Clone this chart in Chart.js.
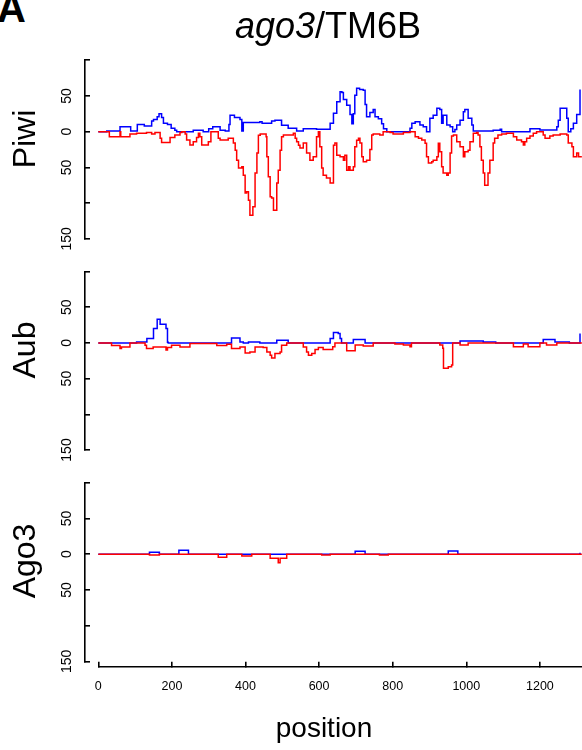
<!DOCTYPE html>
<html>
<head>
<meta charset="utf-8">
<script src="https://cdn.jsdelivr.net/npm/chart.js@4.4.0/dist/chart.umd.min.js"></script>
<style>
  html, body { margin: 0; padding: 0; background: #fff; overflow: hidden; }
  #fig { position: relative; width: 582px; height: 750px; font-family: "Liberation Sans", Arial, sans-serif; color: #000; }
  .panel { position: absolute; left: 0; width: 582px; }
  .lbl { position: absolute; line-height: 1; white-space: nowrap; }
  .ylab { font-size: 32px; transform: translate(-50%, -50%) rotate(-90deg); }
</style>
</head>
<body>
<div id="fig">
  <div class="panel" id="pPiwi"><canvas></canvas></div>
  <div class="panel" id="pAub"><canvas></canvas></div>
  <div class="panel" id="pAgo3"><canvas></canvas></div>
  <div class="panel" id="pAxis"><canvas></canvas></div>
  <div class="lbl" style="left:-3px; top:-12px; font-size:40px; font-weight:bold;">A</div>
  <div class="lbl" style="left:328px; top:8px; font-size:36px; transform:translateX(-50%);"><i>ago3</i>/TM6B</div>
  <div class="lbl ylab" style="left:24px; top:139px;">Piwi</div>
  <div class="lbl ylab" style="left:24px; top:350px;">Aub</div>
  <div class="lbl ylab" style="left:24px; top:561px;">Ago3</div>
  <div class="lbl" style="left:324px; top:714px; font-size:28px; transform:translateX(-50%);">position</div>
</div>
<script>
// === DADOS ===
// Piwi
const piwiAzulPos = [0, 23, 59, 88, 106, 125, 145, 150, 160, 165, 172, 177, 188, 198, 208, 213, 258, 285, 300, 311, 331, 345, 355,
  358, 370, 385, 390, 394, 420, 439, 445, 471, 480, 498, 516, 539, 557, 593, 630, 639, 648, 657, 662, 666, 675, 684, 689, 693,
  697, 702, 710, 720, 725, 729, 738, 747, 752, 761, 770, 775, 784, 847, 852, 861, 870, 874, 883, 892, 901, 910, 920, 928, 933,
  937, 947, 956, 963, 969, 974, 983, 992, 996, 1005, 1015, 1019, 1073, 1092, 1096, 1173, 1200, 1246, 1250, 1255, 1273, 1277,
  1284, 1291, 1300, 1309];
const piwiAzulVal = [0, 1, 7, 1, 10, 8, 15, 17, 21, 25, 20, 12, 10, 5, 2, 0, 2, 0, 4, 7, 2, 1, 10,
  23, 20, 17, 1, 13, 13, 14, 12, 15, 16, 9, 5, 1, 4, 3.5, 12, 26, 42, 56, 55, 45, 37, 24, 11, 25,
  51, 61, 59, 58, 38, 21, 27, 31, 21, 18, 11, 4, 0, 5, 12, 14, 14, 9.5, 7, 0, 19, 23, 33, 31, 12,
  23, 9.5, 7, 0, 3, 9.5, 16, 28, 31, 19, 9.5, 1, 2, 3.5, 0, 4, 2.5, 7, 16, 33, 19, 0,
  4, 12, 24, 59];
const piwiVermPos = [0, 30, 59, 61, 86, 104, 131, 145, 154, 168, 172, 190, 195, 208, 222, 227, 236, 240, 249, 258, 267, 272,
  276, 281, 299, 306, 326, 331, 353, 367, 372, 376, 381, 390, 394, 399, 403, 408, 412, 417, 420, 426, 431, 435, 440, 456, 458,
  462, 467, 471, 476, 480, 485, 489, 494, 498, 503, 530, 535, 539, 544, 548, 557, 566, 575, 584, 593, 598, 602, 607, 611, 620,
  630, 639, 643, 648, 657, 666, 670, 675, 680, 684, 693, 697, 702, 707, 711, 716, 720, 729, 738, 743, 747, 765, 774, 793, 801,
  819, 829, 847, 861, 870, 879, 888, 892, 897, 906, 910, 920, 924, 928, 933, 937, 947, 951, 956, 960, 965, 974, 983, 992, 996,
  1005, 1010, 1019, 1028, 1032, 1037, 1041, 1046, 1050, 1055, 1059, 1064, 1073, 1077, 1086, 1096, 1109, 1123, 1128, 1137, 1150,
  1155, 1159, 1164, 1173, 1182, 1191, 1205, 1209, 1214, 1223, 1227, 1236, 1255, 1273, 1277, 1287, 1291, 1296, 1300, 1305, 1314];
const piwiVermVal = [0, -7, 0, -7, -3.3, -2, -1, -3.3, -1, -9, -15, -15, -8, -4.7, -1, 0, -3.3, -11.6, -18.6, -14, -8, -2,
  -7, -18.6, -14, 0, -9, -11.6, -9.3, -16, -26, -40, -51, -49, -61, -86, -84, -96, -117, -117, -105, -58, -30, -5, -3.3, -7, -35,
  -63, -91, -93, -110, -110, -72, -54, -26, -7, -4.7, -2.3, -9.3, -14, -19, -23, -16, -30, -40, -35, -7, 0, -21, -51, -61, -65,
  -72, -19, -16, -33, -35, -40, -33, -54, -49, -54, -49, -21, -12, -9, -16, -35, -42, -40, -25, -4.7, -3.3, -4.7, 0, -1, -3.3,
  -3.3, -1, 0, -7, -9.3, -11.6, -16.3, -35, -44, -42, -40, -35, -16.3, -28, -49, -58, -61, -58, -30, -6, -4.7, -14, -21, -35, -28,
  -26, -14, -2.3, -1, -4.7, -21, -40, -58, -75, -75, -58, -40, -16, -9.3, -4.7, -3.3, -2.3, -2.3, -7, -11.6, -14,
  -18.6, -14, -9.3, -6, -2.3, 0, 0, -4.7, -9.3, -9.3, -6, -4.7, -3.3, -4.7, -16, -21, -35, -35, -30, -35, -35];

// Aub
const aubAzulPos = [0, 104, 132, 150, 160, 168, 181, 184, 188, 190, 358, 362, 380, 385, 394, 408, 430, 439, 485, 512, 516,
  625, 630, 639, 648, 652, 657, 661, 693, 720, 725, 983, 1028, 1046, 1073, 1080, 1209, 1236, 1241, 1273, 1280, 1304, 1309];
const aubAzulVal = [0, 1.4, 6, 20, 33, 26, 26, 20, 1, 0, 0, 7, 7, 1.4, 0, 1.4, 1.4, 0, 3.8, 3.8, 0,
  0, 6, 14.6, 14.6, 13, 6, 0, 4.7, 4.7, 0, 2.8, 2.8, 1.4, 1.4, 0, 4.7, 4.7, 1.4, 1.4, 0, 0, 13];
const aubVermPos = [0, 36, 59, 63, 86, 127, 131, 149, 181, 184, 188, 195, 199, 222, 249, 322, 349, 362, 385, 399, 412, 426,
  448, 458, 467, 471, 480, 494, 498, 512, 557, 566, 571, 580, 589, 598, 611, 637, 643, 675, 698, 720, 747, 806, 829, 847, 851,
  928, 936, 938, 951, 960, 963, 983, 1005, 1128, 1155, 1168, 1200, 1218, 1246, 1314];
const aubVermVal = [0, -3.6, -7.9, -5.6, 0, -3.2, -7.9, -5.6, -5.6, -10, -6.5, -6.5, -3.2, -5.6, -0.9, -3.6, -1.8, -7.9, -5.6, -14, -12.6, -5.6,
  -6.5, -12.6, -17.3, -21, -14.9, -12.6, -3.2, 0, -5.6, -12.6, -17.3, -14.9, -9.3, -6.5, -9.3, -5.3, 0, -10.9, -3, -4.3, 0, -1.5, -3, -5.3, 0,
  -3, -7.6, -35.6, -33.3, -31, 0, -3, 0, -5.3, -1.5, -5.3, 0, -3, 0, 0];

// Ago3
const ago3AzulPos = [0, 139, 166, 219, 245, 698, 725, 951, 977, 1309];
const ago3AzulVal = [0, 2.6, 0, 5.4, 0, 4, 0, 4.5, 0, 2];
const ago3VermPos = [0, 139, 166, 326, 349, 390, 417, 467, 489, 494, 512, 607, 630, 764, 788, 1314];
const ago3VermVal = [0, -1.1, 0, -4.4, 0, -2.5, 0, -5.8, -11.9, -5.8, 0, -1.1, 0, -1.1, 0, 0];

// eixos
const yTicks = [-150, -100, -50, 0, 50, 100];
const xTicks = [0, 200, 400, 600, 800, 1000, 1200];

// === GEOMETRIA ===
const FONTE = '"Liberation Sans", Arial, sans-serif';
const PX_X = 0.368;      // px por unidade de posição
const X0_PX = 98.3;      // pixel da posição 0
const EIXO_Y_PX = 85;    // pixel da linha do eixo y
const PX_Y = 0.714;      // px por unidade de leitura
const X_MIN = -(X0_PX - EIXO_Y_PX) / PX_X;
const X_MAX = (582 - X0_PX) / PX_X;

const pontos = (xs, ys) => xs.map((x, i) => ({ x: x, y: ys[i] }));

function painel(id, zeroPx, azulPos, azulVal, vermPos, vermVal) {
  const topo = zeroPx - yTicks[yTicks.length - 1] * PX_Y;
  const base = zeroPx - yTicks[0] * PX_Y;
  const cTopo = Math.floor(topo - 30), cBase = Math.ceil(base + 30);
  const box = document.getElementById(id);
  box.style.top = cTopo + 'px';
  box.style.height = (cBase - cTopo) + 'px';

  new Chart(box.querySelector('canvas'), {
    type: 'line',
    data: {
      datasets: [
        { data: pontos(vermPos, vermVal), borderColor: '#FF0000', borderWidth: 1.5, stepped: true, pointRadius: 0, fill: false },
        { data: pontos(azulPos, azulVal), borderColor: '#0000FF', borderWidth: 1.5, stepped: true, pointRadius: 0, fill: false }
      ]
    },
    options: {
      responsive: true,
      maintainAspectRatio: false,
      animation: false,
      events: [],
      layout: { padding: { top: topo - cTopo, bottom: cBase - base, left: 0, right: 0 } },
      plugins: { legend: { display: false }, tooltip: { enabled: false } },
      scales: {
        x: { type: 'linear', display: false, min: X_MIN, max: X_MAX },
        y: {
          min: yTicks[0], max: yTicks[yTicks.length - 1],
          afterFit: s => { s.width = EIXO_Y_PX; },
          afterBuildTicks: s => { s.ticks = yTicks.map(v => ({ value: v })); },
          border: { display: true, color: '#000', width: 1.6 },
          grid: { drawOnChartArea: false, drawTicks: true, tickLength: -5, color: '#000', lineWidth: 1.6 },
          ticks: {
            minRotation: 90, maxRotation: 90, crossAlign: 'center', padding: 11.6,
            color: '#000', font: { family: FONTE, size: 14 },
            callback: v => Math.abs(v) === 100 ? '' : String(Math.abs(v))
          }
        }
      }
    }
  });
}

painel('pPiwi', 131.7, piwiAzulPos, piwiAzulVal, piwiVermPos, piwiVermVal);
painel('pAub', 342.9, aubAzulPos, aubAzulVal, aubVermPos, aubVermVal);
painel('pAgo3', 554.2, ago3AzulPos, ago3AzulVal, ago3VermPos, ago3VermVal);

// === EIXO X (só no painel de baixo, começando no 0) ===
const LINHA_X = 666.7;
const boxEixo = document.getElementById('pAxis');
boxEixo.style.top = '620px';
boxEixo.style.height = '130px';
new Chart(boxEixo.querySelector('canvas'), {
  type: 'line',
  data: { datasets: [] },
  options: {
    responsive: true,
    maintainAspectRatio: false,
    animation: false,
    events: [],
    layout: { padding: { left: X0_PX, right: 0, top: 0, bottom: 0 } },
    plugins: { legend: { display: false }, tooltip: { enabled: false } },
    scales: {
      y: { display: false, min: 0, max: 1 },
      x: {
        type: 'linear', position: 'bottom', min: 0, max: X_MAX,
        afterFit: s => { s.height = 750 - LINHA_X; },
        afterBuildTicks: s => { s.ticks = xTicks.map(v => ({ value: v })); },
        border: { display: true, color: '#000', width: 1.6 },
        grid: { drawOnChartArea: false, drawTicks: true, tickLength: -5, color: '#000', lineWidth: 1.6 },
        ticks: {
          padding: 17.5, maxRotation: 0, autoSkip: false, color: '#000', font: { family: FONTE, size: 12.5 },
          callback: v => String(v)
        }
      }
    }
  }
});
</script>
</body>
</html>
